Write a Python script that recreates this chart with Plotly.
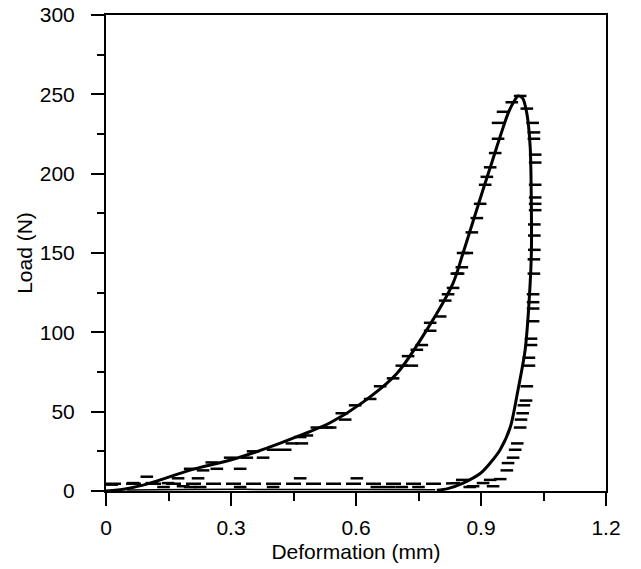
import plotly.graph_objects as go

# Fitted loading/unloading curve (Deformation mm, Load N)
curve_x = [0.0, 0.046, 0.106, 0.2, 0.305, 0.386, 0.466, 0.538, 0.617, 0.698, 0.778, 0.833, 0.857, 0.881,
           0.905, 0.926, 0.938, 0.953, 0.965, 0.978, 0.989, 1.0, 1.010, 1.018, 1.021, 1.021, 1.018, 1.006, 0.989,
           0.970, 0.946, 0.922, 0.898, 0.857, 0.82, 0.794]
curve_y = [0.0, 1.3, 5, 13, 20, 27, 35, 43, 56, 74, 105, 131, 150, 170,
           190, 207, 217, 229, 238, 245, 249, 247.5, 238, 217, 175, 152, 131, 89, 64,
           40, 26, 17.6, 11, 5, 1.5, 0.5]

# Return path along the baseline
return_x = [0.79, 0.6, 0.4, 0.2, 0.05]
return_y = [0.8, 0.9, 1.0, 1.0, 0.6]

# Dashed baseline trace
base_x = [0.0, 0.2, 0.4, 0.6, 0.8, 0.85]
base_y = [4.5, 4.5, 4.5, 4.5, 4.5, 5]

# Experimental readings shown as short dashes
pts_x = [0.994, 0.974, 0.953, 0.941, 0.941, 0.934, 0.922, 0.914, 0.910, 0.898, 0.890, 0.878, 0.866,
         0.857, 0.854, 0.845, 0.842, 0.833, 0.821, 0.814, 0.802, 0.778, 0.778, 0.758, 0.746, 0.725,
         0.734, 0.710, 0.689, 0.658, 0.634, 0.598, 0.566, 0.574, 0.538, 0.530, 0.506, 0.482, 0.466,
         0.470, 0.446, 0.430, 0.401, 0.377, 0.353, 0.338, 0.322, 0.298, 0.266, 0.254, 0.233, 0.202,
         0.221, 0.173, 0.149, 0.098, 0.110, 0.065, 0.014, 0.185, 0.466, 0.602, 0.138, 0.202, 0.226,
         0.322, 0.401, 0.650, 0.680, 0.710, 0.750, 0.855, 0.873,
         1.010, 1.024, 1.027, 1.027, 1.030, 1.030, 1.030, 1.030, 1.030, 1.030, 1.028, 1.028, 1.028,
         1.027, 1.027, 1.025, 1.025, 1.025, 1.025, 1.020, 1.020, 1.015, 1.015, 1.010, 1.008, 1.003,
         1.000, 0.996, 0.994, 0.987, 0.982, 0.977, 0.965, 0.962, 0.946, 0.929, 0.922, 0.905, 0.881]
pts_y = [249, 245, 239, 232, 222, 213, 204, 198, 193, 181, 172, 163, 150,
         150, 141, 137, 137, 128, 124, 120, 110, 106, 101, 92, 89, 85,
         79, 79, 71, 66, 58, 54, 49, 45, 40, 40, 40, 35, 34,
         30, 30, 26, 26, 21, 25, 21, 14, 21, 14, 18, 13, 14,
         8, 8, 5, 9, 5, 5, 4, 3, 8, 8, 2.5, 2.5, 2.5,
         2.5, 2.5, 2.5, 2.5, 2.5, 2.5, 7, 2.5,
         241, 232, 226, 222, 212, 207, 193, 185, 181, 177, 168, 161, 152,
         146, 137, 124, 119, 115, 107, 96, 92, 84, 79, 66, 57, 54,
         49, 45, 40, 30, 26, 21, 17.6, 13, 7.5, 3, 7, 5, 3]

x_ticks = [0, 0.3, 0.6, 0.9, 1.2]
x_tick_labels = ["0", "0.3", "0.6", "0.9", "1.2"]
y_ticks = [0, 50, 100, 150, 200, 250, 300]
y_tick_labels = ["0", "50", "100", "150", "200", "250", "300"]

FONT = "Liberation Sans, Arial, sans-serif"

fig = go.Figure()
fig.add_trace(go.Scatter(x=base_x, y=base_y, mode="lines",
                         line=dict(color="black", width=2.5, dash="15px,5px"), hoverinfo="skip"))
fig.add_trace(go.Scatter(x=return_x, y=return_y, mode="lines", line_shape="spline",
                         line=dict(color="black", width=1.5), hoverinfo="skip"))
fig.add_trace(go.Scatter(x=pts_x, y=pts_y, mode="markers",
                         marker=dict(symbol="line-ew", size=9, line=dict(color="black", width=2.5))))
fig.add_trace(go.Scatter(x=curve_x, y=curve_y, mode="lines", line_shape="spline",
                         line=dict(color="black", width=3, smoothing=0.8)))

axis_common = dict(showline=True, linecolor="black", linewidth=2, mirror=True,
                   ticks="outside", tickcolor="black", tickwidth=2, ticklen=13,
                   showgrid=False, zeroline=False, automargin=False,
                   tickfont=dict(family=FONT, size=21, color="black"))

fig.update_xaxes(range=[0, 1.2], tickvals=x_ticks, ticktext=x_tick_labels, ticklabelstandoff=4,
                 title=dict(text="Deformation (mm)", font=dict(family=FONT, size=21, color="black"), standoff=6),
                 minor=dict(ticks="outside", dtick=0.15, tick0=0, ticklen=8, tickcolor="black", tickwidth=2),
                 **axis_common)
fig.update_yaxes(range=[0, 300], tickvals=y_ticks, ticktext=y_tick_labels, ticklabelstandoff=12,
                 title=dict(text="Load (N)", font=dict(family=FONT, size=21, color="black"), standoff=1),
                 minor=dict(ticks="outside", dtick=25, tick0=0, ticklen=7, tickcolor="black", tickwidth=2),
                 **axis_common)

fig.update_layout(width=641, height=569, showlegend=False,
                  margin=dict(l=106, r=35, t=15, b=78),
                  plot_bgcolor="white", paper_bgcolor="white")

fig.write_html("out.html")
